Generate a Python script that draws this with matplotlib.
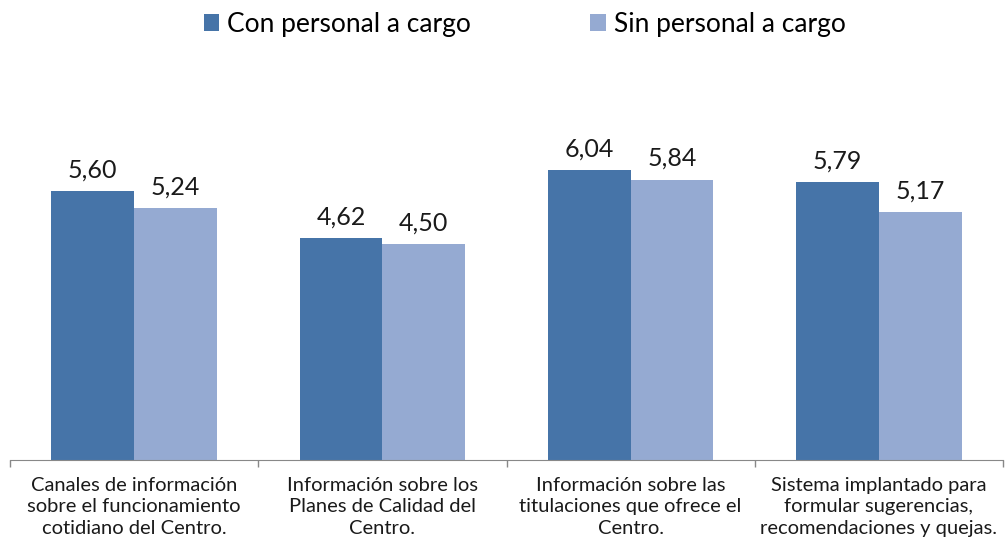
import matplotlib.pyplot as plt
import numpy as np

plt.rcParams['font.family'] = ['Lato', 'DejaVu Sans']

categories = ["Canales de información\nsobre el funcionamiento\ncotidiano del Centro.",
              "Información sobre los\nPlanes de Calidad del\nCentro.",
              "Información sobre las\ntitulaciones que ofrece el\nCentro.",
              "Sistema implantado para\nformular sugerencias,\nrecomendaciones y quejas."]
con_personal = [5.60, 4.62, 6.04, 5.79]
sin_personal = [5.24, 4.50, 5.84, 5.17]
series_names = ["Con personal a cargo", "Sin personal a cargo"]
colors = ["#4674A8", "#95AAD2"]

fig = plt.figure(figsize=(10.05, 5.55), dpi=100)
ax = fig.add_axes([10 / 1005, 95 / 555, 993 / 1005, 336 / 555])

x = np.arange(len(categories))
w = 1 / 3
b1 = ax.bar(x - w / 2, con_personal, w, color=colors[0], label=series_names[0])
b2 = ax.bar(x + w / 2, sin_personal, w, color=colors[1], label=series_names[1])

for bars, vals in [(b1, con_personal), (b2, sin_personal)]:
    for r, v in zip(bars, vals):
        ax.annotate(f"{v:.2f}".replace(".", ","), (r.get_x() + r.get_width() / 2, v),
                    xytext=(0, 7), textcoords="offset points", ha="center", va="bottom",
                    fontsize=18, color="#1a1a1a")

ax.set_xlim(-0.5, len(categories) - 0.5)
ax.set_ylim(0, 7)
ax.set_yticks([])
for s in ["top", "right", "left"]:
    ax.spines[s].set_visible(False)
ax.spines["bottom"].set_color("#888888")
ax.set_xticks(np.arange(len(categories) + 1) - 0.5, minor=False)
ax.set_xticklabels([])
ax.tick_params(axis="x", length=5, color="#888888", width=1)
for i, c in enumerate(categories):
    ax.text(i, -0.36, c, ha="center", va="top", fontsize=14.5, color="#1a1a1a",
            linespacing=1.3, transform=ax.transData)

fig.legend(loc="upper center", bbox_to_anchor=(0.522, 1.022), ncol=2, frameon=False,
           fontsize=19, handlelength=0.6, handleheight=0.6, handletextpad=0.3,
           columnspacing=4.5)

fig.savefig("out.png", dpi=100)
